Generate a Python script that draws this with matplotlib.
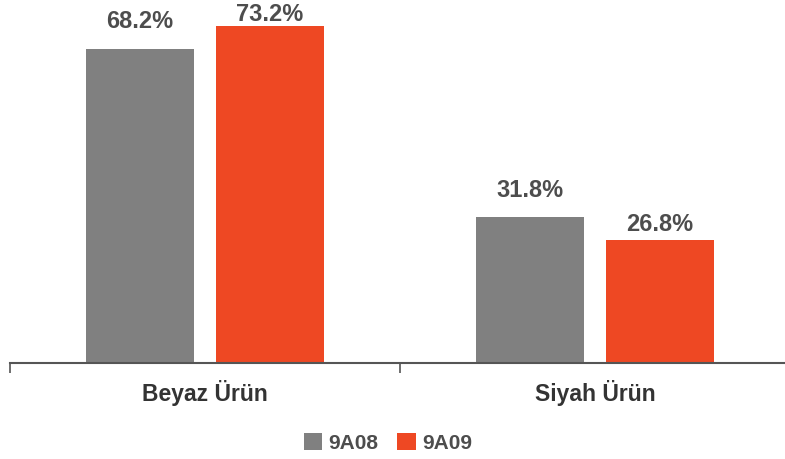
import matplotlib.pyplot as plt
import numpy as np

# dados
categorias = ["Beyaz Ürün", "Siyah Ürün"]
series = ["9A08", "9A09"]
valores_9a08 = [68.2, 31.8]
valores_9a09 = [73.2, 26.8]

cores = ["#808080", "#EE4823"]
# afastamento dos rótulos acima das barras (pt), como no original
afast = [[11.5, 10.7], [0.0, 2.8]]

plt.rcParams["font.family"] = ["Liberation Sans", "DejaVu Sans"]

fig = plt.figure(figsize=(7.85, 4.59), dpi=100)
# eixo: de x=10 a x=790 px, base em y=363 px
ax = fig.add_axes([10 / 785, (459 - 363) / 459, 780 / 785, 363 / 459])

x = np.arange(len(categorias))
larg = 0.277
desloc = 0.1667
for i, (vals, cor, nome) in enumerate(zip([valores_9a08, valores_9a09], cores, series)):
    pos = x + (desloc if i else -desloc)
    barras = ax.bar(pos, vals, width=larg, color=cor, label=nome)
    for j, (b, v) in enumerate(zip(barras, vals)):
        ax.annotate(f"{v:.1f}%", (b.get_x() + b.get_width() / 2, v),
                    xytext=(0, afast[i][j]), textcoords="offset points",
                    ha="center", va="bottom", fontsize=17, fontweight="bold",
                    color="#4d4d4d", annotation_clip=False)

ax.set_xlim(-0.5, 1.5)
ax.set_ylim(0, 363 / 4.6)

for lado in ["top", "right", "left"]:
    ax.spines[lado].set_visible(False)
ax.spines["bottom"].set_color("#555555")
ax.spines["bottom"].set_linewidth(1.5)
ax.set_yticks([])

ax.set_xticks([-0.5, 0.5, 1.5])
ax.set_xticklabels([])
ax.tick_params(axis="x", length=7, width=1.2, color="#555555")
ax.set_xticks(x, minor=True)
ax.set_xticklabels(categorias, minor=True, fontsize=16.5, fontweight="bold", color="#333333")
ax.tick_params(axis="x", which="minor", length=0, pad=12)

leg = fig.legend(loc="center", bbox_to_anchor=(388 / 785, 1 - 443 / 459), ncol=2,
                 frameon=False, handlelength=0.9, handleheight=0.9, handletextpad=0.3,
                 columnspacing=0.9, prop={"size": 15, "weight": "bold"})
for t in leg.get_texts():
    t.set_color("#4d4d4d")

fig.savefig("out.png", dpi=100)
